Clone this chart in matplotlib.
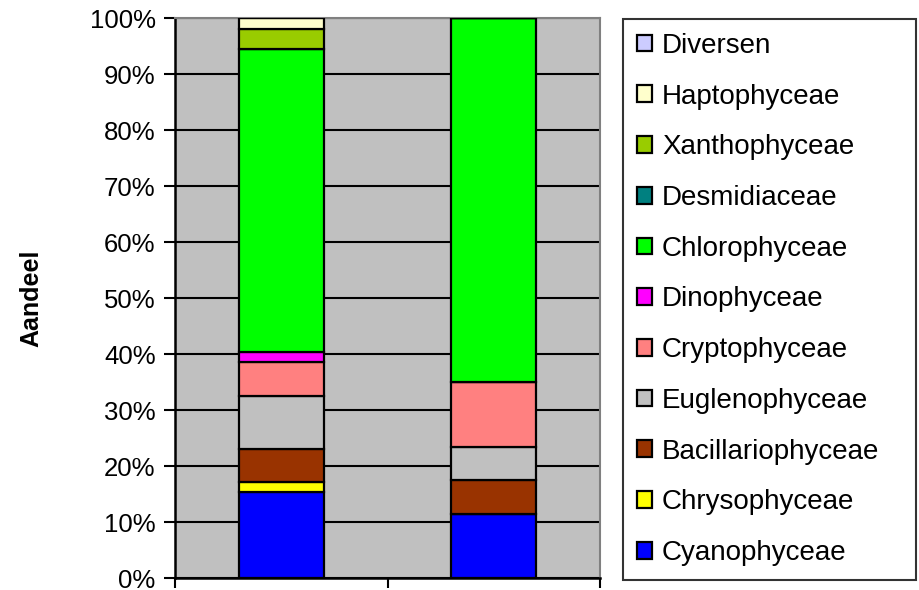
import matplotlib
matplotlib.use("Agg")
import matplotlib.pyplot as plt
from matplotlib.ticker import PercentFormatter

plt.rcParams['font.family'] = ['Liberation Sans', 'DejaVu Sans']

# stacking order, bottom to top
groups = ['Cyanophyceae', 'Chrysophyceae', 'Bacillariophyceae', 'Euglenophyceae',
          'Cryptophyceae', 'Dinophyceae', 'Chlorophyceae', 'Desmidiaceae',
          'Xanthophyceae', 'Haptophyceae', 'Diversen']
colors = ['#0000FF', '#FFFF00', '#993300', '#C0C0C0', '#FF8080', '#FF00FF',
          '#00FF00', '#008080', '#99CC00', '#FFFFCC', '#CCCCFF']
categories = ['', '']
bar1 = [15.4, 1.7, 6.0, 9.5, 6.0, 1.7, 54.1, 0, 3.6, 2.0, 0]
bar2 = [11.5, 0, 6.0, 6.0, 11.6, 0, 64.9, 0, 0, 0, 0]

fig = plt.figure(figsize=(9.19, 5.9), dpi=100)
ax = fig.add_axes([175/919, 11.7/590, 425/919, 560.3/590])
ax.set_facecolor('#C0C0C0')

x = [0, 1]
bottom = [0, 0]
handles = []
for i in range(len(groups)):
    vals = [bar1[i], bar2[i]]
    b = ax.bar(x, vals, 0.4, bottom=bottom, color=colors[i], edgecolor='black',
               linewidth=1.6, label=groups[i], zorder=3)
    handles.append(b)
    bottom = [bottom[j] + vals[j] for j in range(2)]

ax.set_xlim(-0.5, 1.5)
ax.set_ylim(0, 100)
ax.set_yticks(range(0, 101, 10))
ax.yaxis.set_major_formatter(PercentFormatter(decimals=0))
ax.set_xticks([-0.5, 0.5, 1.5])
ax.set_xticklabels(['', '', ''])
ax.grid(axis='y', color='black', linewidth=1.5, zorder=1)
ax.tick_params(axis='y', labelsize=18.5, length=8, width=1.5, pad=6)
ax.tick_params(axis='x', length=7, width=1.5)
for s in ['left', 'bottom']:
    ax.spines[s].set_color('black')
    ax.spines[s].set_linewidth(1.8)
for s in ['top', 'right']:
    ax.spines[s].set_color('#808080')
    ax.spines[s].set_linewidth(1.5)
ax.set_ylabel('Aandeel', fontsize=18, fontweight='bold', labelpad=33)

leg = fig.legend(handles[::-1], groups[::-1], loc='upper left',
                 bbox_to_anchor=(623/919, 1 - 19/590, 293/919, 0), mode='expand',
                 fontsize=20, frameon=True, fancybox=False, edgecolor='black',
                 handlelength=0.55, handleheight=0.55, handletextpad=0.35,
                 labelspacing=0.89, borderpad=0.5, borderaxespad=0)
leg.get_frame().set_linewidth(1.5)

fig.savefig('out.png', dpi=100)
